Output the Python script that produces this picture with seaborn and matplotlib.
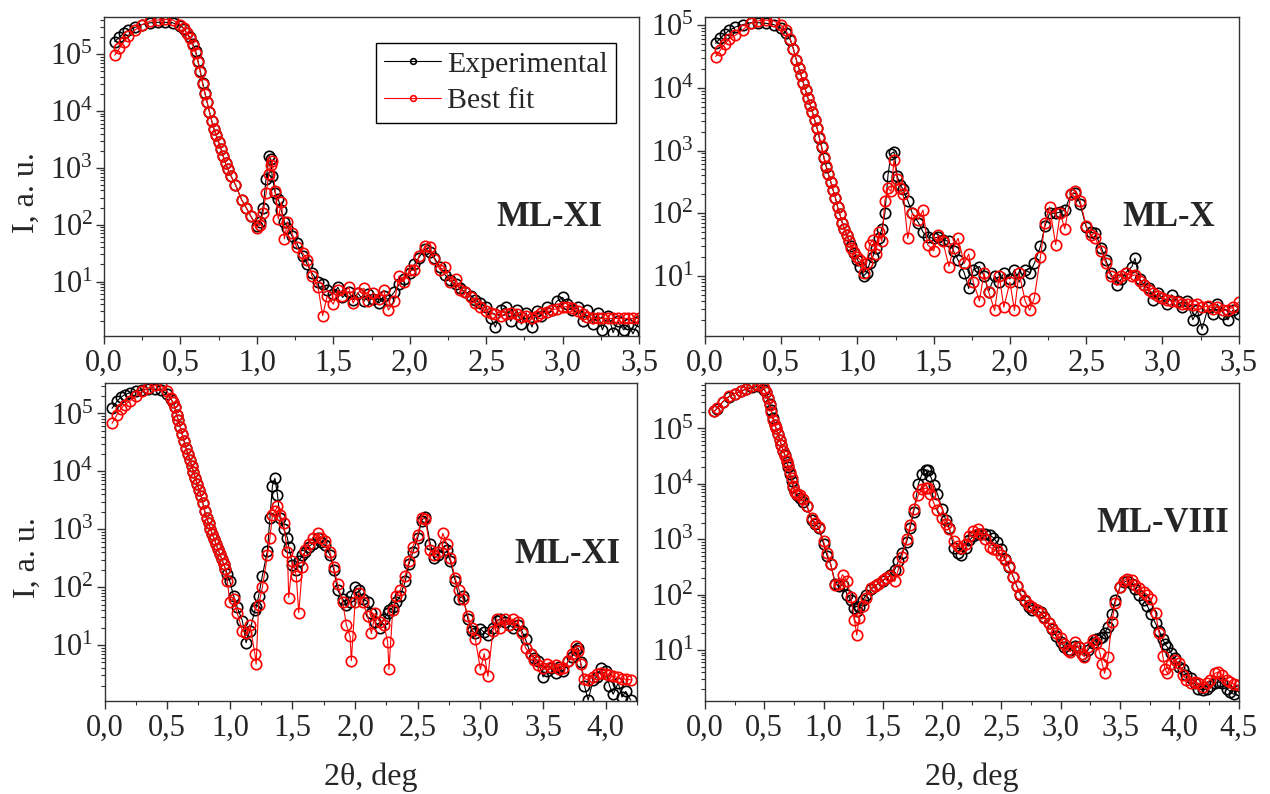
import numpy as np
import matplotlib
matplotlib.use("Agg")
import matplotlib.pyplot as plt
from matplotlib.ticker import MultipleLocator, FuncFormatter, LogLocator, NullFormatter
import seaborn as sns

sns.set_style("ticks")
plt.rcParams['font.family'] = ['Liberation Serif', 'DejaVu Serif']
plt.rcParams['mathtext.fontset'] = 'custom'
plt.rcParams['mathtext.rm'] = 'Liberation Serif'
plt.rcParams['mathtext.it'] = 'Liberation Serif:italic'
plt.rcParams['mathtext.bf'] = 'Liberation Serif:bold'

# intensities as log10(I)

# --- top left, ML-XI ---
x1 = [0.07, 0.1, 0.13, 0.16, 0.2, 0.25, 0.3, 0.35, 0.4, 0.45,
      0.5, 0.52, 0.54, 0.56, 0.58, 0.6, 0.615, 0.63, 0.645, 0.66,
      0.675, 0.69, 0.705, 0.72, 0.735, 0.75, 0.765, 0.78, 0.795, 0.81,
      0.83, 0.86, 0.9, 0.93, 0.96, 1.0, 1.02, 1.04, 1.06, 1.08,
      1.09, 1.1, 1.12, 1.14, 1.16, 1.18, 1.2, 1.23, 1.26, 1.3,
      1.33, 1.36, 1.4, 1.43, 1.46, 1.5, 1.53, 1.56, 1.6, 1.63,
      1.66, 1.7, 1.73, 1.76, 1.8, 1.83, 1.86, 1.9, 1.93, 1.96,
      2.0, 2.03, 2.06, 2.1, 2.13, 2.16, 2.2, 2.23, 2.26, 2.3,
      2.33, 2.36, 2.4, 2.43, 2.46, 2.5, 2.53, 2.56, 2.6, 2.63,
      2.66, 2.7, 2.73, 2.76, 2.8, 2.83, 2.86, 2.9, 2.93, 2.96,
      3.0, 3.03, 3.06, 3.1, 3.13, 3.16, 3.2, 3.23, 3.26, 3.3,
      3.33, 3.36, 3.4, 3.43, 3.46, 3.5]
exp1 = [5.22, 5.30, 5.37, 5.42, 5.47, 5.52, 5.55, 5.56, 5.56, 5.55,
        5.50, 5.45, 5.38, 5.30, 5.18, 5.05, 4.88, 4.70, 4.50, 4.32,
        4.15, 3.98, 3.82, 3.68, 3.57, 3.45, 3.33, 3.20, 3.08, 2.98,
        2.86, 2.70, 2.44, 2.30, 2.15, 1.98, 2.05, 2.30, 2.80, 3.20,
        3.15, 2.85, 2.55, 2.45, 2.25, 2.05, 1.95, 1.80, 1.68, 1.45,
        1.30, 1.15, 1.00, 0.95, 0.85, 0.78, 0.90, 0.72, 0.82, 0.68,
        0.80, 0.65, 0.78, 0.70, 0.62, 0.75, 0.68, 0.82, 0.95, 1.05,
        1.15, 1.30, 1.42, 1.58, 1.52, 1.42, 1.25, 1.12, 1.02, 0.95,
        0.88, 0.82, 0.75, 0.68, 0.62, 0.55, 0.35, 0.20, 0.50, 0.55,
        0.30, 0.50, 0.25, 0.45, 0.20, 0.48, 0.40, 0.55, 0.50, 0.65,
        0.72, 0.60, 0.50, 0.55, 0.30, 0.50, 0.25, 0.45, 0.15, 0.40,
        0.10, 0.30, 0.15, 0.25, 0.08, 0.30]
fit1 = [4.98, 5.10, 5.22, 5.32, 5.42, 5.52, 5.58, 5.60, 5.61, 5.60,
        5.52, 5.46, 5.38, 5.28, 5.16, 5.02, 4.86, 4.68, 4.48, 4.30,
        4.15, 3.98, 3.82, 3.68, 3.57, 3.45, 3.33, 3.20, 3.08, 2.98,
        2.86, 2.70, 2.44, 2.30, 2.15, 1.95, 2.00, 2.20, 2.55, 2.90,
        3.05, 3.12, 2.60, 2.10, 2.40, 1.75, 2.05, 1.85, 1.60, 1.50,
        1.38, 1.10, 0.90, 0.40, 0.75, 0.60, 0.85, 0.75, 0.90, 0.62,
        0.80, 0.88, 0.65, 0.80, 0.70, 0.85, 0.50, 0.65, 1.10, 1.00,
        1.20, 1.20, 1.45, 1.62, 1.60, 1.40, 1.20, 1.25, 1.00, 1.05,
        0.85, 0.82, 0.72, 0.62, 0.55, 0.48, 0.45, 0.42, 0.40, 0.42,
        0.44, 0.42, 0.38, 0.40, 0.36, 0.40, 0.44, 0.46, 0.50, 0.52,
        0.55, 0.56, 0.54, 0.48, 0.42, 0.38, 0.35, 0.35, 0.35, 0.35,
        0.35, 0.35, 0.35, 0.35, 0.35, 0.35]

# --- top right, ML-X ---
x2 = [0.07, 0.1, 0.13, 0.16, 0.2, 0.25, 0.3, 0.35, 0.4, 0.45,
      0.5, 0.53, 0.56, 0.58, 0.6, 0.615, 0.63, 0.645, 0.66, 0.675,
      0.69, 0.705, 0.72, 0.735, 0.75, 0.765, 0.78, 0.795, 0.81, 0.825,
      0.84, 0.855, 0.87, 0.885, 0.9, 0.915, 0.93, 0.945, 0.96, 0.98,
      1.0, 1.02, 1.04, 1.06, 1.08,
      1.1, 1.12, 1.14, 1.16, 1.18, 1.2, 1.22, 1.24, 1.26, 1.28,
      1.3, 1.33, 1.36, 1.4, 1.43, 1.46, 1.5, 1.53, 1.56, 1.6,
      1.63, 1.66, 1.7, 1.73, 1.76, 1.8, 1.83, 1.86, 1.9, 1.93,
      1.96, 2.0, 2.03, 2.06, 2.1, 2.13, 2.16, 2.2, 2.23, 2.26,
      2.3, 2.33, 2.36, 2.4, 2.43, 2.46, 2.5, 2.53, 2.56, 2.6,
      2.63, 2.66, 2.7, 2.73, 2.76, 2.8, 2.82, 2.85, 2.88, 2.91,
      2.94, 2.97, 3.0, 3.03, 3.06, 3.1, 3.13, 3.16, 3.2, 3.23,
      3.26, 3.3, 3.33, 3.36, 3.4, 3.43, 3.46, 3.5]
exp2 = [4.71, 4.79, 4.86, 4.92, 4.97, 5.01, 5.04, 5.04, 5.03, 5.01,
        4.95, 4.88, 4.76, 4.62, 4.44, 4.32, 4.20, 4.08, 3.96, 3.84,
        3.73, 3.61, 3.48, 3.36, 3.20, 3.05, 2.88, 2.74, 2.62, 2.50,
        2.37, 2.25, 2.10, 1.98, 1.85, 1.75, 1.65, 1.56, 1.48, 1.37,
        1.26, 1.15, 1.00, 1.05, 1.20,
        1.30, 1.45, 1.60, 1.75, 2.00, 2.60, 2.95, 2.98, 2.60, 2.45,
        2.38, 2.20, 2.00, 1.85, 1.70, 1.62, 1.60, 1.62, 1.58, 1.55,
        1.40, 1.25, 1.05, 0.80, 1.10, 1.15, 1.00, 0.75, 1.00, 0.90,
        1.05, 0.95, 1.10, 0.90, 1.10, 1.05, 1.20, 1.47, 1.80, 2.00,
        2.00, 2.02, 2.05, 2.30, 2.32, 2.15, 1.78, 1.70, 1.68, 1.45,
        1.25, 1.05, 0.85, 0.95, 1.05, 1.15, 1.28, 0.95, 0.85, 0.80,
        0.62, 0.72, 0.65, 0.55, 0.70, 0.60, 0.50, 0.60, 0.30, 0.45,
        0.15, 0.50, 0.40, 0.55, 0.40, 0.30, 0.45, 0.40]
fit2 = [4.50, 4.60, 4.70, 4.78, 4.84, 4.93, 5.03, 5.07, 5.08, 5.07,
        5.00, 4.92, 4.78, 4.62, 4.44, 4.32, 4.20, 4.08, 3.96, 3.84,
        3.73, 3.61, 3.48, 3.36, 3.22, 3.07, 2.90, 2.76, 2.62, 2.50,
        2.37, 2.25, 2.10, 1.98, 1.85, 1.75, 1.65, 1.55, 1.45, 1.38,
        1.30, 1.25, 1.05, 1.20, 1.50,
        1.58, 1.35, 1.70, 1.55, 2.20, 2.40, 2.35, 2.85, 2.55, 2.40,
        2.30, 1.60, 2.00, 1.90, 2.05, 1.50, 1.40, 1.65, 1.55, 1.15,
        1.45, 1.60, 1.20, 1.35, 0.90, 0.60, 1.05, 0.75, 0.45, 1.00,
        0.50, 0.90, 0.45, 1.05, 0.60, 0.45, 0.65, 1.30, 1.85, 2.10,
        1.50, 2.00, 1.75, 2.30, 2.35, 2.20, 1.80, 1.65, 1.60, 1.40,
        1.20, 1.00, 0.95, 1.00, 1.05, 1.00, 1.02, 0.92, 0.85, 0.78,
        0.72, 0.68, 0.65, 0.62, 0.60, 0.58, 0.56, 0.55, 0.54, 0.55,
        0.50, 0.52, 0.48, 0.50, 0.45, 0.46, 0.50, 0.58]

# --- bottom left, ML-XI ---
x3 = [0.06, 0.1, 0.13, 0.16, 0.2, 0.25, 0.3, 0.35, 0.4, 0.45,
      0.5, 0.53, 0.545, 0.56, 0.575, 0.59, 0.605, 0.62, 0.635, 0.65,
      0.665, 0.68, 0.695, 0.71, 0.725, 0.74, 0.755, 0.77, 0.785, 0.8,
      0.815, 0.83, 0.845, 0.86, 0.875, 0.89, 0.905, 0.92, 0.935, 0.95,
      0.965, 0.98, 1.0, 1.03, 1.06, 1.1, 1.13,
      1.16, 1.2, 1.21, 1.23, 1.26, 1.3, 1.32, 1.34, 1.36, 1.38,
      1.4, 1.43, 1.46, 1.47, 1.5, 1.53, 1.55, 1.58, 1.6, 1.63,
      1.66, 1.7, 1.73, 1.76, 1.8, 1.83, 1.86, 1.9, 1.93, 1.96,
      1.97, 2.0, 2.03, 2.06, 2.1, 2.13, 2.16, 2.2, 2.23, 2.26,
      2.27, 2.3, 2.33, 2.36, 2.4, 2.43, 2.46, 2.5, 2.53, 2.56,
      2.6, 2.63, 2.66, 2.7, 2.73, 2.76, 2.8, 2.83, 2.86, 2.9,
      2.93, 2.96, 3.0, 3.03, 3.06, 3.1, 3.13, 3.16, 3.2, 3.23,
      3.26, 3.3, 3.33, 3.36, 3.4, 3.43, 3.46, 3.5, 3.53, 3.56,
      3.6, 3.63, 3.66, 3.7, 3.73, 3.76, 3.78, 3.8, 3.83, 3.86,
      3.9, 3.93, 3.96, 4.0, 4.03, 4.06, 4.1, 4.13, 4.16, 4.2]
exp3 = [5.09, 5.21, 5.28, 5.32, 5.36, 5.39, 5.41, 5.42, 5.42, 5.41,
        5.33, 5.25, 5.19, 5.12, 4.98, 4.88, 4.76, 4.64, 4.52, 4.40,
        4.30, 4.20, 4.10, 3.99, 3.89, 3.78, 3.68, 3.58, 3.45, 3.31,
        3.20, 3.10, 3.01, 2.92, 2.84, 2.74, 2.66, 2.57, 2.49, 2.40,
        2.32, 2.22, 2.10, 1.85, 1.65, 1.42, 1.04,
        1.25, 1.60, 1.65, 1.85, 2.20, 2.63, 3.20, 3.75, 3.88, 3.60,
        3.20, 3.00, 2.85, 2.70, 2.39, 2.30, 2.45, 2.55, 2.60, 2.70,
        2.75, 2.85, 2.78, 2.72, 2.55, 2.30, 1.95, 1.80, 1.70, 1.75,
        1.85, 2.00, 1.95, 1.80, 1.75, 1.55, 1.40, 1.30, 1.45, 1.55,
        1.60, 1.65, 1.75, 1.85, 2.10, 2.40, 2.60, 2.85, 3.15, 3.22,
        2.75, 2.50, 2.55, 2.70, 2.65, 2.45, 2.10, 1.80, 1.85, 1.45,
        1.25, 1.20, 1.28, 1.22, 1.18, 1.30, 1.42, 1.45, 1.40, 1.35,
        1.30, 1.35, 1.25, 1.10, 0.85, 0.78, 0.72, 0.45, 0.55, 0.60,
        0.52, 0.62, 0.55, 0.72, 0.80, 0.92, 0.95, 0.70, 0.30, 0.05,
        0.40, 0.45, 0.60, 0.55, 0.30, 0.15, 0.35, 0.10, 0.20, 0.05]
fit3 = [4.83, 4.98, 5.08, 5.15, 5.21, 5.30, 5.38, 5.44, 5.49, 5.49,
        5.38, 5.26, 5.19, 5.12, 4.98, 4.88, 4.76, 4.64, 4.52, 4.40,
        4.30, 4.20, 4.10, 3.99, 3.89, 3.78, 3.68, 3.58, 3.45, 3.31,
        3.20, 3.10, 3.01, 2.92, 2.84, 2.74, 2.66, 2.57, 2.49, 2.40,
        2.32, 2.10, 1.75, 1.80, 1.55, 1.25, 1.20,
        1.35, 0.85, 0.67, 1.70, 2.00, 2.55, 2.85, 3.25, 3.31, 3.40,
        3.25, 3.10, 2.60, 1.82, 2.45, 2.20, 1.56, 2.35, 2.65, 2.75,
        2.85, 2.93, 2.85, 2.80, 2.60, 2.35, 2.05, 1.75, 1.35, 1.15,
        0.73, 1.75, 1.90, 1.75, 1.50, 1.20, 1.55, 1.40, 1.35, 1.05,
        0.58, 1.60, 1.85, 1.95, 2.20, 2.45, 2.70, 2.90, 3.20, 3.18,
        2.65, 2.55, 2.60, 2.93, 2.75, 2.50, 2.15, 1.95, 1.80, 1.50,
        1.30, 1.10, 0.58, 0.85, 0.46, 1.25, 1.45, 1.30, 1.45, 1.35,
        1.45, 1.40, 1.20, 0.95, 0.85, 0.75, 0.65, 0.60, 0.68, 0.62,
        0.66, 0.58, 0.60, 0.72, 0.85, 0.98, 0.90, 0.68, 0.42, 0.40,
        0.45, 0.50, 0.52, 0.50, 0.48, 0.46, 0.44, 0.42, 0.41, 0.40]

# --- bottom right, ML-VIII ---
x4 = [0.08, 0.1, 0.15, 0.2, 0.25, 0.3, 0.35, 0.4, 0.45, 0.5,
      0.515, 0.53, 0.545, 0.56, 0.575, 0.59, 0.6, 0.615, 0.63, 0.645,
      0.66, 0.675, 0.69, 0.7, 0.715, 0.73, 0.745, 0.76, 0.78, 0.8,
      0.83,
      0.86, 0.9, 0.93, 0.96, 1.0, 1.03, 1.06, 1.1, 1.13, 1.16,
      1.2, 1.23, 1.26, 1.28, 1.3, 1.33, 1.36, 1.4, 1.43, 1.46,
      1.5, 1.53, 1.56, 1.6, 1.63, 1.66, 1.7, 1.73, 1.76, 1.8,
      1.83, 1.86, 1.88, 1.9, 1.93, 1.96, 2.0, 2.03, 2.06, 2.1,
      2.13, 2.16, 2.2, 2.23, 2.26, 2.3, 2.33, 2.36, 2.4, 2.43,
      2.46, 2.5, 2.53, 2.56, 2.6, 2.63, 2.66, 2.7, 2.73, 2.76,
      2.8, 2.83, 2.86, 2.9, 2.93, 2.96, 3.0, 3.03, 3.06, 3.08,
      3.12, 3.15, 3.18, 3.2, 3.23, 3.27, 3.3, 3.33, 3.35, 3.37,
      3.4, 3.43, 3.46, 3.5, 3.53, 3.56, 3.6, 3.63, 3.66, 3.7,
      3.73, 3.76, 3.8, 3.83, 3.86, 3.88, 3.9, 3.93, 3.96, 4.0,
      4.03, 4.06, 4.1, 4.13, 4.16, 4.2, 4.23, 4.26, 4.3, 4.33,
      4.36, 4.4, 4.43, 4.46, 4.5]
exp4 = [5.31, 5.36, 5.48, 5.57, 5.63, 5.67, 5.71, 5.74, 5.76, 5.70,
        5.65, 5.55, 5.44, 5.33, 5.18, 5.07, 5.00, 4.90, 4.80, 4.70,
        4.60, 4.52, 4.40, 4.30, 4.18, 4.05, 3.95, 3.85, 3.80, 3.75,
        3.68,
        3.60, 3.35, 3.28, 3.20, 2.92, 2.70, 2.55, 2.20, 2.15, 2.18,
        2.00, 1.90, 1.75, 1.70, 1.78, 1.90, 2.00, 2.10, 2.15, 2.20,
        2.25, 2.30, 2.35, 2.45, 2.60, 2.75, 2.95, 3.20, 3.50, 4.00,
        4.18, 4.25, 4.25, 4.15, 3.98, 3.82, 3.55, 3.35, 3.20, 2.84,
        2.75, 2.72, 2.85, 2.98, 3.05, 3.10, 3.10, 3.10, 3.07, 3.03,
        2.95, 2.83, 2.65, 2.50, 2.32, 2.15, 2.00, 1.88, 1.78, 1.72,
        1.72, 1.68, 1.60, 1.48, 1.38, 1.25, 1.15, 1.05, 1.00, 1.00,
        1.08, 1.05, 0.92, 0.90, 1.00, 1.12, 1.20, 1.22, 1.24, 1.30,
        1.42, 1.65, 1.90, 2.14, 2.22, 2.25, 2.20, 2.10, 2.00, 1.90,
        1.80, 1.65, 1.48, 1.35, 1.20, 1.10, 1.05, 0.95, 0.85, 0.70,
        0.65, 0.55, 0.50, 0.40, 0.30, 0.28, 0.30, 0.35, 0.40, 0.42,
        0.40, 0.30, 0.25, 0.20, 0.28]
fit4 = [5.31, 5.37, 5.48, 5.58, 5.63, 5.67, 5.72, 5.76, 5.79, 5.73,
        5.65, 5.55, 5.42, 5.30, 5.16, 5.06, 5.00, 4.90, 4.80, 4.70,
        4.60, 4.50, 4.42, 4.34, 4.22, 4.10, 3.97, 3.85, 3.82, 3.80,
        3.72,
        3.60, 3.38, 3.30, 3.22, 2.96, 2.75, 2.55, 2.17, 2.20, 2.36,
        2.24, 1.95, 1.55, 1.27, 1.58, 1.80, 1.94, 2.12, 2.16, 2.20,
        2.27, 2.30, 2.33, 2.24, 2.45, 2.68, 3.00, 3.25, 3.55, 3.80,
        3.90, 3.92, 3.92, 3.82, 3.65, 3.52, 3.38, 3.28, 3.18, 2.96,
        2.87, 2.85, 2.92, 3.05, 3.15, 3.19, 3.10, 3.00, 2.86, 2.82,
        2.80, 2.72, 2.62, 2.52, 2.32, 2.15, 2.02, 1.90, 1.82, 1.78,
        1.72, 1.66, 1.58, 1.48, 1.40, 1.30, 1.21, 1.10, 1.00, 0.97,
        1.15, 1.05, 0.92, 0.88, 1.05, 1.18, 1.12, 0.95, 0.75, 0.58,
        0.88, 1.50, 1.85, 2.14, 2.25, 2.29, 2.26, 2.18, 2.12, 2.05,
        2.00, 1.92, 1.66, 1.30, 0.90, 0.65, 0.58, 0.75, 0.82, 0.76,
        0.55, 0.46, 0.40, 0.42, 0.40, 0.34, 0.40, 0.46, 0.58, 0.60,
        0.55, 0.46, 0.42, 0.38, 0.36]

sample_names = ["ML-XI", "ML-X", "ML-XI", "ML-VIII"]
series_names = ["Experimental", "Best fit"]

fig = plt.figure(figsize=(12.7, 7.94), dpi=100)

panels = [
    # axes rect, x, exp, fit, xlim, ylim, label position
    ([0.0819, 0.5768, 0.4213, 0.4018], x1, exp1, fit1, (0, 3.5), (1.1, 4.5e5), (0.832, 0.37)),
    ([0.5551, 0.5768, 0.4202, 0.4018], x2, exp2, fit2, (0, 3.5), (1.1, 1.35e5), (0.868, 0.37)),
    ([0.0823, 0.1171, 0.4193, 0.4009], x3, exp3, fit3, (0, 4.25), (1.08, 3.4e5), (0.869, 0.459)),
    ([0.5551, 0.1171, 0.4202, 0.4009], x4, exp4, fit4, (0, 4.5), (1.2, 6.7e5), (0.858, 0.559)),
]

comma = FuncFormatter(lambda v, p: f"{v:.1f}".replace(".", ","))

for i, (rect, x, ye, yf, xlim, ylim, lpos) in enumerate(panels):
    ax = fig.add_axes(rect)
    sns.lineplot(x=x, y=10 ** np.array(ye), ax=ax, color="black", linewidth=0.8,
                 marker="o", markersize=7.5, markerfacecolor="none",
                 markeredgecolor="black", markeredgewidth=1.2,
                 estimator=None, sort=False,
                 label=series_names[0] if i == 0 else None, legend=(i == 0))
    sns.lineplot(x=x, y=10 ** np.array(yf), ax=ax, color="red", linewidth=0.8,
                 marker="o", markersize=7.5, markerfacecolor="none",
                 markeredgecolor="red", markeredgewidth=1.2,
                 estimator=None, sort=False,
                 label=series_names[1] if i == 0 else None, legend=(i == 0))
    ax.set_yscale("log")
    ax.set_xlim(*xlim)
    ax.set_ylim(*ylim)
    ax.xaxis.set_major_locator(MultipleLocator(0.5))
    ax.xaxis.set_minor_locator(MultipleLocator(0.25))
    ax.xaxis.set_major_formatter(comma)
    ax.yaxis.set_major_locator(LogLocator(base=10, numticks=20))
    ax.yaxis.set_minor_locator(LogLocator(base=10, subs=np.arange(2, 10), numticks=50))
    ax.yaxis.set_minor_formatter(NullFormatter())
    ax.tick_params(which="major", direction="out", length=6, width=1, labelsize=22,
                   top=False, right=False, color="#333333")
    ax.tick_params(axis="y", which="major", pad=2)
    ax.tick_params(which="minor", direction="out", length=3, width=0.8,
                   top=False, right=False, color="#333333")
    for s in ax.spines.values():
        s.set_visible(True)
        s.set_linewidth(1.0)
        s.set_color("#333333")
    ax.set_xlabel("")
    ax.set_ylabel("")
    if i in (0, 2):
        ax.set_ylabel("I, a. u.", fontsize=23)
        ax.yaxis.label.set_verticalalignment("center")
        ax.yaxis.set_label_coords(-0.145, 0.45)
    if i in (2, 3):
        ax.set_xlabel("2θ, deg", fontsize=23)
        ax.xaxis.label.set_verticalalignment("center")
        ax.xaxis.set_label_coords(0.5, -0.24)
    ax.text(lpos[0], lpos[1], sample_names[i], transform=ax.transAxes,
            ha="center", va="center", fontsize=25, fontweight="bold")
    if i == 0:
        leg = ax.legend(loc="upper left", bbox_to_anchor=(0.508, 0.92), fontsize=21.5,
                        frameon=True, fancybox=False, edgecolor="black", framealpha=1,
                        handlelength=1.9, handletextpad=0.2, labelspacing=0.32,
                        borderaxespad=0, borderpad=0.28, markerscale=0.55)
        leg.get_frame().set_linewidth(1.0)

fig.savefig("out.png", dpi=100)
